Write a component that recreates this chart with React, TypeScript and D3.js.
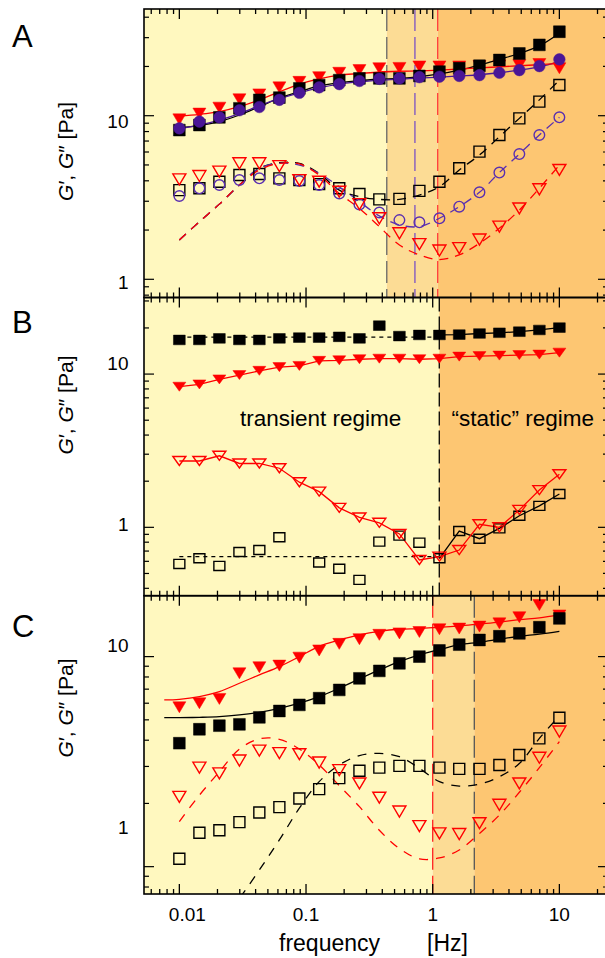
import React, { useEffect, useRef } from 'react';
import * as d3 from 'd3';

// measured frequencies [Hz]
const freq = [0.01, 0.0144, 0.0207, 0.0298, 0.0428, 0.0616, 0.0886, 0.127, 0.183, 0.264, 0.379, 0.546, 0.785, 1.13, 1.62, 2.34, 3.36, 4.83, 6.95, 10];

// panel A: G' (filled) and G'' (open)
const aGpBlack = [8.17, 8.77, 9.77, 11.1, 12.5, 12.9, 14.7, 15.4, 16.5, 16.9, 16.9, 16.9, 17.5, 18.6, 19.5, 20.2, 21.9, 24.0, 27.1, 32.6];
const aGpRed = [9.5, 10.3, 11.2, 12.6, 13.5, 14.9, 16.1, 17.2, 18.3, 19.0, 19.5, 19.6, 20.0, 20.0, 20.0, 20.1, 20.3, 20.4, 20.7, 19.5];
const aGpPurple = [8.37, 9.2, 9.77, 10.8, 11.3, 12.5, 13.8, 14.9, 15.6, 16.3, 16.8, 16.9, 17.2, 17.3, 17.5, 17.7, 18.3, 19.0, 20.1, 22.1];
const aGppBlack = [3.51, 3.6, 3.95, 4.34, 4.4, 4.14, 4.04, 3.82, 3.6, 3.32, 3.08, 3.1, 3.47, 3.95, 4.77, 6.03, 7.62, 9.63, 12.2, 15.4];
const aGppRed = [4.08, 4.28, 4.55, 5.12, 5.12, 4.92, 4.04, 3.95, 3.43, 2.88, 2.36, 1.91, 1.64, 1.5, 1.55, 1.75, 2.1, 2.71, 3.55, 4.66];
const aGppPurple = [3.23, 3.6, 3.77, 4.04, 4.14, 4.04, 3.99, 3.77, 3.35, 2.87, 2.56, 2.3, 2.23, 2.36, 2.78, 3.4, 4.49, 5.83, 7.62, 9.77];
// model curves for A
const aFitGpBlack = [8.45, 8.69, 9.19, 10.1, 11.35, 12.8, 14.0, 15.2, 15.9, 16.4, 16.7, 16.9, 17.3, 18.0, 19.0, 20.4, 22.1, 24.0, 26.7, 31.9];
const aFitGpRed = [9.95, 10.2, 10.6, 11.35, 12.5, 14.0, 15.6, 16.8, 17.7, 18.1, 18.5, 18.7, 18.8, 19.0, 19.3, 19.6, 19.9, 20.2, 20.5, 20.9];
const aFitGpPurple = [8.37, 8.77, 9.41, 10.3, 11.5, 12.7, 13.8, 14.8, 15.6, 16.1, 16.5, 16.7, 17.0, 17.2, 17.5, 17.8, 18.3, 19.0, 19.9, 21.4];
const aFitGppBlack = [1.74, 2.25, 2.88, 3.77, 4.77, 5.16, 5.11, 4.44, 3.51, 3.2, 3.08, 3.08, 3.27, 3.68, 4.66, 5.75, 7.44, 9.63, 12.5, 16.5];
const aFitGppRed = [1.74, 2.25, 2.88, 3.77, 4.66, 5.11, 5.07, 4.34, 3.35, 2.71, 2.1, 1.62, 1.41, 1.32, 1.41, 1.66, 2.05, 2.65, 3.6, 4.99];
const aFitGppPurple = [1.74, 2.25, 2.88, 3.77, 4.77, 5.11, 4.99, 4.44, 3.68, 2.98, 2.44, 2.15, 2.1, 2.36, 2.78, 3.4, 4.49, 5.83, 7.62, 9.77];
const aMarks = [0.434, 0.724, 1.095];

// panel B
const bGpBlack = [16.7, 16.7, 17.1, 16.7, 16.7, 17.1, 17.3, 17.3, 17.5, 17.1, 20.7, 17.7, 18.0, 18.0, 18.1, 18.4, 18.6, 18.9, 19.4, 20.1];
const bGpRed = [8.27, 8.56, 9.23, 9.85, 10.5, 11.1, 11.3, 12.2, 12.3, 12.5, 12.6, 12.6, 12.5, 12.6, 13.0, 13.1, 13.2, 13.3, 13.4, 13.8];
const bGppRed = [2.71, 2.71, 2.93, 2.61, 2.61, 2.43, 1.97, 1.71, 1.34, 1.16, 1.07, 0.905, 0.612, 0.644, 0.711, 1.047, 1.0, 1.3, 1.75, 2.22];
const bGppBlack = [0.577, 0.628, 0.56, 0.69, 0.711, 0.861, null, 0.589, 0.537, 0.454, 0.807, 0.883, 0.794, 0.628, 0.946, 0.843, 0.984, 1.19, 1.38, 1.65];
const bPlateauGp = 17.4;
const bPlateauGpp = 0.644;
const bMark = 1.127;

// panel C
const cGpRed = [5.74, 6.0, 6.29, 8.33, 8.9, 9.06, 9.89, 10.7, 11.5, 12.1, 12.7, 12.9, 13.1, 13.5, 13.6, 13.9, 14.4, 15.4, 17.6, 15.7];
const cGpBlack = [3.87, 4.51, 4.69, 4.76, 5.14, 5.51, 5.89, 6.34, 6.94, 7.88, 8.55, 9.29, 10.0, 10.7, 11.4, 12.0, 12.5, 12.9, 13.8, 15.2];
const cGppBlack = [1.09, 1.45, 1.49, 1.63, 1.81, 1.92, 2.11, 2.34, 2.64, 2.86, 2.96, 3.02, 3.02, 2.96, 2.92, 2.92, 3.05, 3.4, 4.08, 5.12];
const cGppRed = [2.15, 2.96, 2.78, 3.2, 3.57, 3.47, 3.43, 3.13, 2.88, 2.49, 2.13, 1.83, 1.56, 1.44, 1.43, 1.61, 1.97, 2.49, 3.3, 4.4];
const cFitFreq = [0.0076, 0.01, 0.0144, 0.0207, 0.0298, 0.0428, 0.0616, 0.0886, 0.127, 0.183, 0.264, 0.379, 0.546, 0.785, 1.13, 1.62, 2.34, 3.36, 4.83, 6.95, 10];
const cFitGpBlack = [5.12, 5.12, 5.14, 5.18, 5.28, 5.43, 5.67, 6.0, 6.45, 7.07, 7.83, 8.64, 9.47, 10.2, 10.8, 11.4, 11.7, 12.1, 12.5, 12.8, 13.2];
const cFitGpRed = [6.22, 6.26, 6.45, 6.81, 7.47, 8.18, 8.96, 10.0, 11.2, 12.0, 12.7, 13.2, 13.5, 13.6, 13.8, 14.0, 14.3, 14.6, 15.0, 15.3, 15.8];
const cFitGppRed = [1.64, 2.19, 2.83, 3.63, 4.06, 4.04, 3.63, 3.05, 2.43, 1.93, 1.49, 1.22, 1.09, 1.1, 1.2, 1.44, 1.76, 2.26, 2.96, 3.94];
const cFitGppBlack = [null, null, 0.53, 0.706, 0.964, 1.34, 1.9, 2.54, 3.05, 3.38, 3.46, 3.34, 2.94, 2.54, 2.42, 2.47, 2.68, 3.1, 4.08, 5.22];
const cMarks = [1.0, 2.13];

const xTickLabels = [0.01, 0.1, 1, 10];
const yTickLabels = [1, 10];

const FONT = "'Liberation Sans', Arial, Helvetica, sans-serif";
const LIGHT = '#fff8bf';
const MID = '#fcdc95';
const DARK = '#fdc672';
const RED = '#ff0000';
const PURPLE = '#4a1696';

const App = () => {
    const ref = useRef(null);

    useEffect(() => {
        const svg = d3.select(ref.current);
        svg.selectAll('*').remove();

        const left = 144, right = 608;
        const x = d3.scaleLog().domain([0.00526, 24.2]).range([left, right]);

        const panels = [
            { id: 'A', top: 9, bottom: 297.5, dom: [0.774, 44.9], lab: [289, 128], title: 151.5, letter: 47, sy: 1 },
            { id: 'B', top: 297.5, bottom: 595.7, dom: [0.358, 31.6], lab: [531, 369.5], title: 405, letter: 333, sy: 0.82 },
            { id: 'C', top: 595.7, bottom: 894, dom: [0.741, 19.5], lab: [834, 652], title: 708, letter: 637, sy: 1 },
        ];

        panels.forEach(p => { p.y = d3.scaleLog().domain(p.dom).range([p.bottom, p.top]); });
        const [pA, pB, pC] = panels;

        const defs = svg.append('defs');
        panels.forEach(p => {
            defs.append('clipPath').attr('id', 'clip' + p.id)
                .append('rect').attr('x', left).attr('y', p.top).attr('width', right - left).attr('height', p.bottom - p.top);
        });

        const layer = p => svg.append('g').attr('clip-path', `url(#clip${p.id})`);

        const band = (g, p, f0, f1, color) => {
            const x0 = f0 == null ? left : x(f0);
            const x1 = f1 == null ? right : x(f1);
            g.append('rect').attr('x', x0).attr('y', p.top).attr('width', x1 - x0).attr('height', p.bottom - p.top).attr('fill', color);
        };

        const vline = (g, p, f, color, dash) => {
            g.append('line').attr('x1', x(f)).attr('x2', x(f)).attr('y1', p.top).attr('y2', p.bottom)
                .attr('stroke', color).attr('stroke-width', 1.3).attr('stroke-dasharray', dash);
        };

        const curve = (g, p, fs, vs, color, opts = {}) => {
            const pts = fs.map((f, i) => [f, vs[i]]);
            const line = d3.line()
                .defined(d => d[1] != null)
                .x(d => x(d[0]))
                .y(d => p.y(d[1]))
                .curve(opts.smooth ? d3.curveCatmullRom.alpha(0.5) : d3.curveLinear);
            g.append('path').attr('d', line(pts)).attr('fill', 'none')
                .attr('stroke', color).attr('stroke-width', opts.width || 1.3)
                .attr('stroke-dasharray', opts.dash || null);
        };

        const marks = (g, p, fs, vs, shape, color, filled) => {
            const pts = fs.map((f, i) => [f, vs[i]]).filter(d => d[1] != null);
            const sel = g.append('g').selectAll('path').data(pts).enter().append('path')
                .attr('transform', d => `translate(${x(d[0])},${p.y(d[1])})`)
                .attr('fill', filled ? color : 'none')
                .attr('stroke', color)
                .attr('stroke-width', filled ? 0.5 : 1.4);
            const sy = p.sy;
            if (shape === 'square') {
                const s = filled ? 5.9 : 5.5;
                sel.attr('d', `M${-s},${-s * sy}H${s}V${s * sy}H${-s}Z`);
            } else if (shape === 'tri') {
                const w = 6.5, h = 5.5 * sy;
                sel.attr('d', `M${-w},${-h}L${w},${-h}L0,${h}Z`);
            } else {
                const r = filled ? 5.8 : 5.3;
                sel.attr('d', d3.arc()({ innerRadius: 0, outerRadius: r, startAngle: 0, endAngle: 2 * Math.PI }));
            }
        };

        // ---- Panel A ----
        let g = layer(pA);
        band(g, pA, null, aMarks[0], LIGHT);
        band(g, pA, aMarks[0], aMarks[2], MID);
        band(g, pA, aMarks[2], null, DARK);
        vline(g, pA, aMarks[0], '#666', '22,6');
        vline(g, pA, aMarks[1], '#7a52c4', '22,6');
        vline(g, pA, aMarks[2], '#ff3b3b', '22,6');
        curve(g, pA, freq, aFitGpBlack, '#000', { smooth: true });
        curve(g, pA, freq, aFitGpPurple, PURPLE, { smooth: true });
        curve(g, pA, freq, aFitGpRed, RED, { smooth: true });
        curve(g, pA, freq, aFitGppBlack, '#000', { smooth: true, dash: '9,7' });
        curve(g, pA, freq, aFitGppPurple, '#5a2fb0', { smooth: true, dash: '9,7' });
        curve(g, pA, freq, aFitGppRed, RED, { smooth: true, dash: '9,7' });
        marks(g, pA, freq, aGppBlack, 'square', '#000', false);
        marks(g, pA, freq, aGppPurple, 'circle', '#5a2fb0', false);
        marks(g, pA, freq, aGppRed, 'tri', RED, false);
        marks(g, pA, freq, aGpRed, 'tri', RED, true);
        marks(g, pA, freq, aGpBlack, 'square', '#000', true);
        marks(g, pA, freq, aGpPurple, 'circle', PURPLE, true);

        // ---- Panel B ----
        g = layer(pB);
        band(g, pB, null, bMark, LIGHT);
        band(g, pB, bMark, null, DARK);
        vline(g, pB, bMark, '#000', '14,5');
        const bPlateauF = freq.slice(0, 14);
        curve(g, pB, bPlateauF, bPlateauF.map(() => bPlateauGp), '#000', { dash: '4,4' });
        curve(g, pB, bPlateauF, bPlateauF.map(() => bPlateauGpp), '#000', { dash: '4,4' });
        curve(g, pB, freq.slice(13), bGpBlack.slice(13), '#000');
        curve(g, pB, freq.slice(13), bGppBlack.slice(13), '#000');
        curve(g, pB, freq, bGpRed, RED);
        curve(g, pB, freq, bGppRed, RED);
        marks(g, pB, freq, bGppBlack, 'square', '#000', false);
        marks(g, pB, freq, bGppRed, 'tri', RED, false);
        marks(g, pB, freq, bGpRed, 'tri', RED, true);
        marks(g, pB, freq, bGpBlack, 'square', '#000', true);

        // ---- Panel C ----
        g = layer(pC);
        band(g, pC, null, cMarks[0], LIGHT);
        band(g, pC, cMarks[0], cMarks[1], MID);
        band(g, pC, cMarks[1], null, DARK);
        vline(g, pC, cMarks[0], '#ff2020', '22,6');
        vline(g, pC, cMarks[1], '#555', '22,6');
        curve(g, pC, cFitFreq, cFitGpBlack, '#000', { smooth: true });
        curve(g, pC, cFitFreq, cFitGpRed, RED, { smooth: true });
        curve(g, pC, freq, cFitGppBlack, '#000', { smooth: true, dash: '9,8' });
        curve(g, pC, freq, cFitGppRed, RED, { smooth: true, dash: '9,8' });
        marks(g, pC, freq, cGppBlack, 'square', '#000', false);
        marks(g, pC, freq, cGppRed, 'tri', RED, false);
        marks(g, pC, freq, cGpRed, 'tri', RED, true);
        marks(g, pC, freq, cGpBlack, 'square', '#000', true);

        // ---- frames, ticks, labels ----
        const isMajor = t => Math.abs(Math.log10(t) - Math.round(Math.log10(t))) < 1e-6;
        const axes = svg.append('g');
        panels.forEach(p => {
            axes.append('rect').attr('x', left).attr('y', p.top).attr('width', right - left).attr('height', p.bottom - p.top)
                .attr('fill', 'none').attr('stroke', '#000').attr('stroke-width', 1.6);
            x.ticks().forEach(t => {
                const len = isMajor(t) ? 10 : 5;
                const xx = x(t);
                axes.append('line').attr('x1', xx).attr('x2', xx).attr('y1', p.top).attr('y2', p.top + len).attr('stroke', '#000').attr('stroke-width', 1.3);
                axes.append('line').attr('x1', xx).attr('x2', xx).attr('y1', p.bottom).attr('y2', p.bottom - len).attr('stroke', '#000').attr('stroke-width', 1.3);
            });
            p.y.ticks().forEach(t => {
                const len = isMajor(t) ? 10 : 5;
                const yy = p.y(t);
                axes.append('line').attr('x1', left).attr('x2', left + len).attr('y1', yy).attr('y2', yy).attr('stroke', '#000').attr('stroke-width', 1.2);
                axes.append('line').attr('x1', right).attr('x2', right - len).attr('y1', yy).attr('y2', yy).attr('stroke', '#000').attr('stroke-width', 1.2);
            });

            const lab = d3.scaleLog().domain([1, 10]).range(p.lab);
            yTickLabels.forEach(t => {
                axes.append('text').attr('x', 128.5).attr('y', lab(t)).attr('text-anchor', 'end')
                    .attr('font-family', FONT).attr('font-size', 19).text(t);
            });

            axes.append('text').attr('x', 12).attr('y', p.letter).attr('font-family', FONT).attr('font-size', 31).text(p.id);

            const title = axes.append('text').attr('transform', `translate(73,${p.title}) rotate(-90)`)
                .attr('text-anchor', 'middle').attr('font-family', FONT).attr('font-size', 21);
            title.append('tspan').attr('font-style', 'italic').text('G');
            title.append('tspan').text('\u2032, ');
            title.append('tspan').attr('font-style', 'italic').text('G');
            title.append('tspan').text('\u2033 [Pa]');
        });

        xTickLabels.forEach((t, i) => {
            axes.append('text').attr('x', x(t) + (i === 0 ? 8 : 0)).attr('y', 921).attr('text-anchor', 'middle')
                .attr('font-family', FONT).attr('font-size', 19).text(t);
        });
        axes.append('text').attr('x', 279).attr('y', 951).attr('font-family', FONT).attr('font-size', 23).text('frequency');
        axes.append('text').attr('x', 427).attr('y', 951).attr('font-family', FONT).attr('font-size', 23).text('[Hz]');

        axes.append('text').attr('x', 240).attr('y', 426).attr('font-family', FONT).attr('font-size', 22.5).text('transient regime');
        axes.append('text').attr('x', 451.5).attr('y', 426).attr('font-family', FONT).attr('font-size', 22.5).text('\u201Cstatic\u201D regime');
    }, []);

    return <svg ref={ref} width={605} height={958} style={{ position: 'absolute', left: 0, top: 0, background: '#fff' }}></svg>;
};

export default App;
